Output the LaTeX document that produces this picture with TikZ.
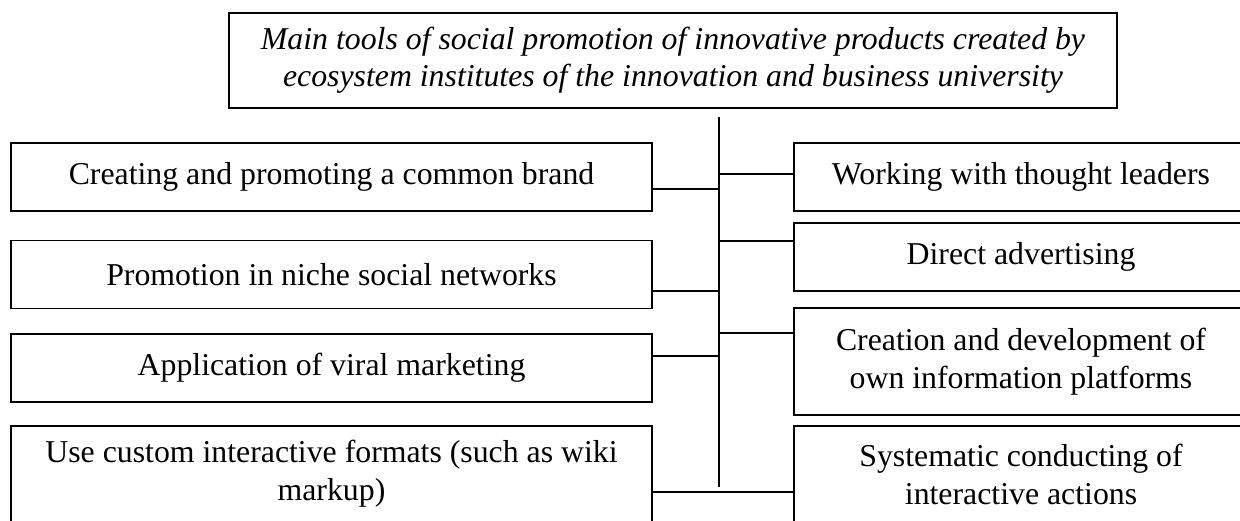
\documentclass[tikz,border=0pt]{standalone}
\usepackage{fontspec}
\setmainfont{Liberation Serif}
\usepackage{tikz}

\begin{document}
\begin{tikzpicture}[x=0.5pt,y=-0.5pt,
  every node/.style={font=\fontsize{15.9}{19}\selectfont},
  lbox/.style={draw,line width=0.75pt,minimum width=320.5pt,minimum height=34pt,align=center,inner sep=0pt},
  rbox/.style={lbox,minimum width=227pt},
  link/.style={line width=0.85pt}]
\useasboundingbox (0,0) rectangle (1240,520);
\clip (0,0) rectangle (1240,520);
\node[draw,line width=0.75pt,minimum width=444pt,minimum height=47.5pt,align=center,inner sep=0pt,font=\fontsize{15.9}{18.5}\selectfont\itshape] (0) at (673,60.5) {Main tools of social promotion of innovative products created by\\ecosystem institutes of the innovation and business university};
\node[lbox] (1) at (331.5,177) {Creating and promoting a common brand};
\node[lbox] (2) at (331.5,274.5) {Promotion in niche social networks};
\node[lbox] (3) at (331.5,368) {Application of viral marketing};
\node[lbox,minimum height=48pt] (4) at (331.5,474) {Use custom interactive formats (such as wiki\\markup)};
\node[rbox] (5) at (1021,177) {Working with thought leaders};
\node[rbox] (6) at (1021,257) {Direct advertising};
\node[rbox,minimum height=53.5pt] (7) at (1021,361.5) {Creation and development of\\own information platforms};
\node[rbox,minimum height=48pt] (8) at (1021,474) {Systematic conducting of\\interactive actions};
% spine
\coordinate (9) at (719,117);
\coordinate (10) at (719,487);
\coordinate (j1) at (719,174);
\coordinate (j2) at (719,189);
\coordinate (j3) at (719,241);
\coordinate (j4) at (719,291);
\coordinate (j5) at (719,333);
\coordinate (j6) at (719,356);
\coordinate (j7) at (719,492);
\draw [line width=1pt](9)--(10);
\draw [link,line width=1.25pt](j1)--(j1 -| 5.west);
\draw [link,line width=1.25pt](1.east |- j2)--(j2);
\draw [link](j3)--(j3 -| 6.west);
\draw [link](2.east |- j4)--(j4);
\draw [link](j5)--(j5 -| 7.west);
\draw [link](3.east |- j6)--(j6);
\draw [link](4.east |- j7)--(j7 -| 8.west);
\end{tikzpicture}
\end{document}
